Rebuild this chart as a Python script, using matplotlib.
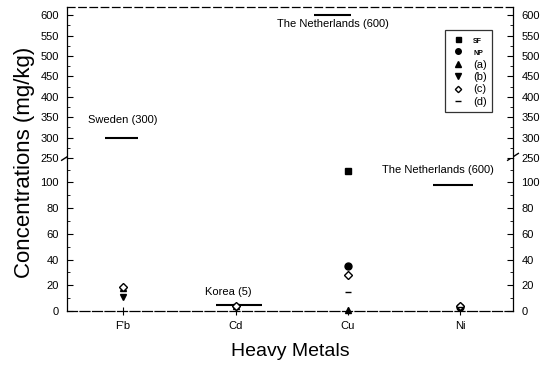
import matplotlib
matplotlib.use("Agg")
import matplotlib.pyplot as plt
from matplotlib.ticker import MultipleLocator

plt.rcParams['font.family'] = ['Liberation Sans', 'DejaVu Sans']

metals = ["Pb", "Cd", "Cu", "Ni"]
metal_ticklabels = ["F'b", "Cd", "Cu", "Ni"]

# measured concentrations (mg/kg) per sample group, one value per metal
sf_vals = [None, None, 109, None]
np_vals = [None, None, 35, 3]
a_vals = [18, 4, 1, 4]
b_vals = [11, 3, None, 2]
c_vals = [19, 4, 28, 4]
d_vals = [None, None, 15, 3]

# regulatory limits: metal position, level, label
limit_metal = [1, 2, 3, 4]
limit_level = [300, 5, 600, 98]
limit_text = ["Sweden (300)", "Korea (5)", "The Netherlands (600)", "The Netherlands (600)"]
# horizontal extent of each limit line (in category units) and label centre
limit_span = [(0.84, 1.13), (1.83, 2.24), (2.7, 3.03), (3.76, 4.11)]
label_x = [1.0, 1.94, 2.87, 3.8]

lower_ticks = [0, 20, 40, 60, 80, 100]
upper_ticks = [250, 300, 350, 400, 450, 500, 550, 600]

fig = plt.figure(figsize=(5.4, 3.65), dpi=100)
L, R = 67 / 540, 513 / 540
ybot = 1 - 311 / 365
ymid = 1 - 158 / 365
ytop = 1 - 7 / 365
ax_lo = fig.add_axes([L, ybot, R - L, ymid - ybot])
ax_hi = fig.add_axes([L, ymid, R - L, ytop - ymid], sharex=ax_lo)

ax_lo.set_ylim(0, 119)
ax_hi.set_ylim(250, 620)
ax_lo.set_xlim(0.5, 4.47)

series = [
    ("SF", sf_vals, "s", 4.5),
    ("NP", np_vals, "o", 5),
    ("(a)", a_vals, "^", 5),
    ("(b)", b_vals, "v", 5),
    ("(c)", c_vals, "D", 4),
    ("(d)", d_vals, "_", 5),
]
handles = []
for name, vals, mk, ms in series:
    xs = [i + 1 for i, v in enumerate(vals) if v is not None]
    ys = [v for v in vals if v is not None]
    for ax in (ax_lo, ax_hi):
        h, = ax.plot(xs, ys, linestyle="none", marker=mk, markersize=ms,
                     color="black", markerfacecolor="black" if name != "(c)" else "white",
                     markeredgewidth=1.0, clip_on=False if ax is ax_lo else True, zorder=4)
    handles.append(h)

# limit lines with labels
for (x0, x1), lv, lx, txt in zip(limit_span, limit_level, label_x, limit_text):
    ax = ax_hi if lv >= 250 else ax_lo
    ax.hlines(lv, x0, x1, color="black", lw=1.5, zorder=3)
    if lv >= 250 and lv < 500:
        ax.text(lx, lv + 30, txt, ha="center", va="bottom", fontsize=8)
    elif lv >= 500:
        ax.text(lx, lv - 10, txt, ha="center", va="top", fontsize=8)
    elif lv < 20:
        ax.text(lx, lv + 6, txt, ha="center", va="bottom", fontsize=8)
    else:
        ax.text(lx, lv + 8, txt, ha="center", va="bottom", fontsize=8)

for ax in (ax_lo, ax_hi):
    ax.tick_params(axis="y", which="both", direction="in", left=True, right=True,
                   labelleft=True, labelright=True, labelsize=8, length=4, pad=6)
    ax.tick_params(axis="y", which="minor", length=2)
    for s in ax.spines.values():
        s.set_linewidth(0.9)

ax_lo.set_yticks(lower_ticks)
ax_lo.yaxis.set_minor_locator(MultipleLocator(10))
ax_hi.set_yticks(upper_ticks)
ax_hi.yaxis.set_minor_locator(MultipleLocator(25))

ax_lo.spines["top"].set_visible(False)
ax_hi.spines["bottom"].set_visible(False)
ax_hi.spines["top"].set_linestyle((0, (6, 3)))
ax_lo.spines["bottom"].set_linestyle((0, (8, 2)))
ax_hi.tick_params(axis="x", bottom=False, labelbottom=False)
ax_lo.set_xticks([1, 2, 3, 4])
ax_lo.set_xticklabels(metal_ticklabels)
ax_lo.tick_params(axis="x", direction="inout", length=6, labelsize=8, pad=4)

# axis-break slashes
for xf in (0, 1):
    ax_lo.plot([xf - 0.012, xf + 0.012], [0.985, 1.03], transform=ax_lo.transAxes,
               color="black", lw=1.0, clip_on=False)

fig.text(0.045, (ybot + ytop) / 2 - 0.01, "Concentrations (mg/kg)", rotation=90,
         ha="center", va="center", fontsize=16)
fig.text((L + R) / 2, 1 - 351 / 365, "Heavy Metals", ha="center", va="center", fontsize=14)

leg = ax_hi.legend(handles, [s[0] for s in series], loc="upper right",
                   fontsize=8, frameon=True, fancybox=False, edgecolor="black",
                   handlelength=1.2, handletextpad=0.8, borderpad=0.5, labelspacing=0.22,
                   markerscale=0.8)
leg.get_frame().set_linewidth(0.9)
leg.set_bbox_to_anchor((498 / 540, 1 - 24 / 365), transform=fig.transFigure)
for t in leg.get_texts()[:2]:
    t.set_fontsize(5)
    t.set_fontweight("bold")

fig.savefig("out.png", dpi=100)
